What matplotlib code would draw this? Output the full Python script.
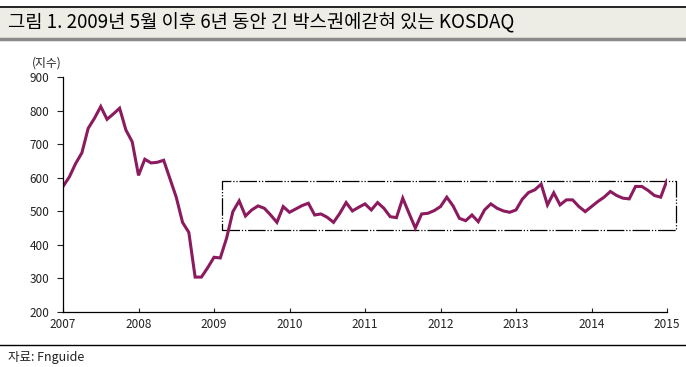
import numpy as np
import matplotlib
matplotlib.use('Agg')
import matplotlib.pyplot as plt
from matplotlib.patches import Rectangle
from matplotlib.lines import Line2D

plt.rcParams['font.family'] = ['Noto Sans CJK KR', 'DejaVu Sans']

# KOSDAQ monthly, Jan 2007 .. Jan 2015
kosdaq = [574, 602, 642, 674, 747, 777, 812, 774, 790, 807, 742, 707,
          607, 655, 644, 646, 652, 597, 542, 467, 437, 304, 304, 332,
          363, 361, 420, 499, 531, 486, 504, 516, 509, 489, 467, 514,
          497, 507, 517, 524, 489, 492, 482, 467, 494, 526, 501, 512,
          522, 504, 526, 509, 484, 481, 539, 494, 450, 492, 494, 502,
          514, 542, 516, 479, 472, 489, 469, 504, 522, 509, 501, 497,
          504, 536, 556, 564, 581, 519, 555, 519, 534, 534, 514, 499,
          514, 529, 542, 559, 547, 539, 537, 574, 574, 562, 547, 542,
          592]
x = 2007 + np.arange(len(kosdaq)) / 12.0
years = list(range(2007, 2016))
yticks = list(range(200, 901, 100))

title = '그림 1. 2009년 5월 이후 6년 동안 긴 박스권에갇혀 있는 KOSDAQ'
source = '자료: Fnguide'
ylabel = '(지수)'

fig = plt.figure(figsize=(6.86, 3.67), dpi=100)
fig.patch.set_facecolor('white')

# title band
fig.patches.append(Rectangle((0, 1 - 38/367), 1, 31/367, transform=fig.transFigure,
                             facecolor='#ededE6', edgecolor='none'))
fig.lines.append(Line2D([0, 1], [1 - 7/367, 1 - 7/367], transform=fig.transFigure,
                        color='black', lw=1.2))
fig.lines.append(Line2D([0, 1], [1 - 38.5/367, 1 - 38.5/367], transform=fig.transFigure,
                        color='#8a8a8a', lw=2.5))
fig.text(0.012, 1 - 23/367, title, fontsize=13.5, va='center', ha='left', color='black')

ax = fig.add_axes([63/686, 1 - 312/367, 604/686, 235/367])
ax.plot(x, kosdaq, color='#8b1a5e', lw=2.2, solid_joinstyle='miter')
ax.set_xlim(2007, 2015)
ax.set_ylim(200, 900)
ax.set_xticks(years)
ax.set_yticks(yticks)
ax.tick_params(axis='x', direction='in', length=3, labelsize=8.5, pad=4, colors='#222222')
ax.tick_params(axis='y', direction='out', length=4, labelsize=8.5, pad=6, colors='#222222')
for s in ['top', 'right']:
    ax.spines[s].set_visible(False)
for s in ['left', 'bottom']:
    ax.spines[s].set_linewidth(0.9)

# box around the range since 2009
box = Rectangle((2009.10, 444), 6.025, 147, fill=False, edgecolor='black',
                lw=0.9, linestyle=(0, (14, 1.5, 1, 1.5, 1, 1.5)), clip_on=False)
ax.add_patch(box)

fig.text(32/686, 1 - 63/367, ylabel, fontsize=8.5, va='center', ha='left', color='#222222')

fig.lines.append(Line2D([0, 1], [1 - 345/367, 1 - 345/367], transform=fig.transFigure,
                        color='black', lw=1.0))
fig.text(0.012, 1 - 357/367, source, fontsize=9, va='center', ha='left', color='#222222')

fig.savefig('out.png', dpi=100)
